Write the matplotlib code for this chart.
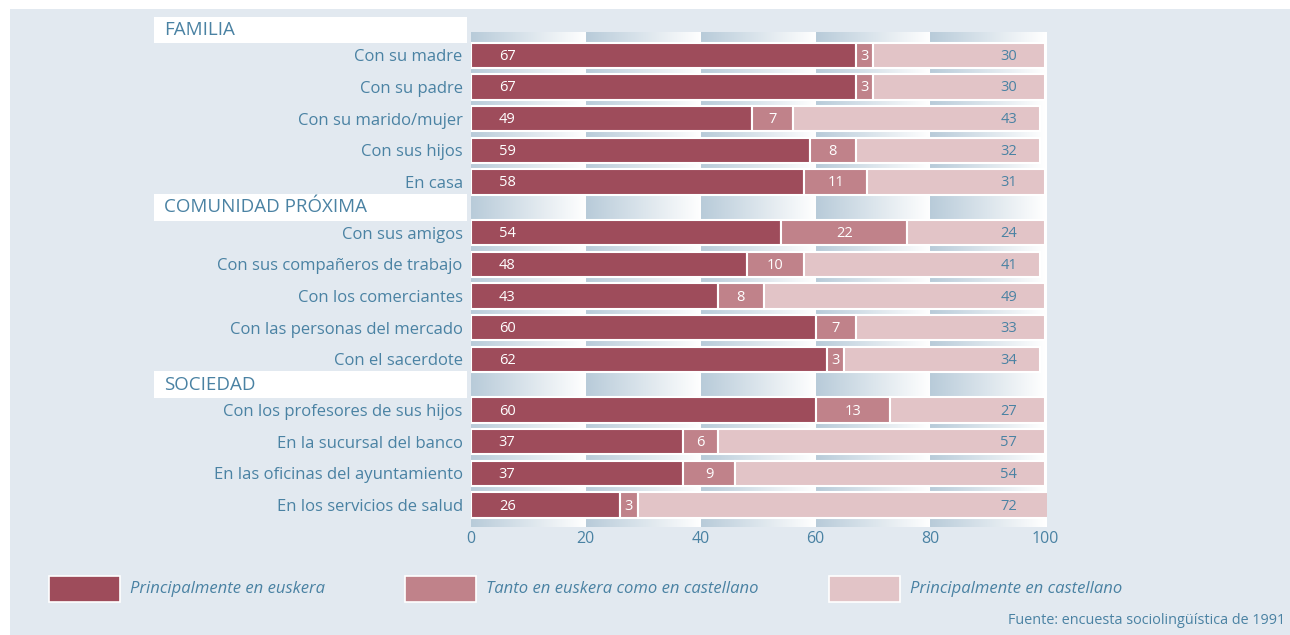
import numpy as np
import matplotlib.pyplot as plt
from matplotlib.colors import LinearSegmentedColormap
from matplotlib.patches import Rectangle

# Datos: porcentaje de uso de la lengua según interlocutor
grupos = ["FAMILIA", "COMUNIDAD PRÓXIMA", "SOCIEDAD"]
etiquetas = [
    ["Con su madre", "Con su padre", "Con su marido/mujer", "Con sus hijos", "En casa"],
    ["Con sus amigos", "Con sus compañeros de trabajo", "Con los comerciantes",
     "Con las personas del mercado", "Con el sacerdote"],
    ["Con los profesores de sus hijos", "En la sucursal del banco",
     "En las oficinas del ayuntamiento", "En los servicios de salud"],
]
euskera = [67, 67, 49, 59, 58, 54, 48, 43, 60, 62, 60, 37, 37, 26]
ambos = [3, 3, 7, 8, 11, 22, 10, 8, 7, 3, 13, 6, 9, 3]
castellano = [30, 30, 43, 32, 31, 24, 41, 49, 33, 34, 27, 57, 54, 72]
leyenda = ["Principalmente en euskera", "Tanto en euskera como en castellano",
           "Principalmente en castellano"]
fuente = "Fuente: encuesta sociolingüística de 1991"

col_eus = "#9e4c5b"
col_amb = "#c0828a"
col_cas = "#e2c4c7"
col_txt = "#4a82a3"
fondo = "#e2e9f0"

plt.rcParams["font.family"] = ["Open Sans", "DejaVu Sans"]

fig = plt.figure(figsize=(12.9, 6.35), dpi=100)
fig.patch.set_facecolor("white")
fig.patches.append(Rectangle((10 / 1290, 0), 1, 1 - 9 / 635, transform=fig.transFigure,
                             facecolor=fondo, edgecolor="none", zorder=-10))

ax = fig.add_axes([471 / 1290, 1 - 527 / 635, 576 / 1290, (527 - 32) / 635])
ax.set_facecolor("white")

# posiciones verticales: filas de cada grupo con hueco para la cabecera
salto = 1.6
pos = []
cab = []
y = 0.0
for i, filas in enumerate(etiquetas):
    if i > 0:
        y += salto - 1
    cab.append(y - 0.8)
    for _ in filas:
        pos.append(y)
        y += 1
pos = np.array(pos)
nombres = [e for filas in etiquetas for e in filas]

y_top, y_bot = -0.735, pos[-1] + 0.69

# fondo degradado en tramos de 20
cmap = LinearSegmentedColormap.from_list("deg", ["#b8cbd9", "#ffffff"])
ramp = np.linspace(0, 1, 256).reshape(1, -1)
for x0 in range(0, 100, 20):
    ax.imshow(ramp, cmap=cmap, aspect="auto", extent=(x0, x0 + 20, y_bot, y_top),
              zorder=0, interpolation="bilinear")
ax.set_ylim(y_bot, y_top)
ax.set_xlim(0, 100.3)

alto = 0.8
eus = np.array(euskera)
amb = np.array(ambos)
cas = np.array(castellano)
kw = dict(height=alto, edgecolor="white", linewidth=1.5, zorder=2)
ax.barh(pos, eus, color=col_eus, **kw)
ax.barh(pos, amb, left=eus, color=col_amb, **kw)
ax.barh(pos, cas, left=eus + amb, color=col_cas, **kw)

for p, a, b, c in zip(pos, eus, amb, cas):
    ax.text(6.3, p + 0.03, str(a), color="white", ha="center", va="center", fontsize=10.5, zorder=3)
    ax.text(a + b / 2, p + 0.03, str(b), color="white", ha="center", va="center", fontsize=10.5, zorder=3)
    ax.text(93.6, p + 0.03, str(c), color=col_txt, ha="center", va="center", fontsize=10.5, zorder=3)

ax.set_yticks(pos)
ax.set_yticklabels(nombres, fontsize=12, color=col_txt)
ax.tick_params(axis="y", length=0, pad=6)
ax.set_xticks(range(0, 101, 20))
ax.tick_params(axis="x", length=0, labelsize=11.5, labelcolor=col_txt, pad=3)
for s in ax.spines.values():
    s.set_visible(False)

# cajas blancas de cabecera de grupo
for g, c in zip(grupos, cab):
    ax.add_patch(Rectangle((-55.2, c - 0.42), 54.5, 0.84, transform=ax.transData,
                           facecolor="white", edgecolor="none", clip_on=False, zorder=1))
    ax.text(-53.5, c, g, color=col_txt, fontsize=13.5, ha="left", va="center")

# leyenda
cols = [col_eus, col_amb, col_cas]
xs = [49, 405, 829]
for x, col, txt in zip(xs, cols, leyenda):
    fig.patches.append(Rectangle((x / 1290, 1 - 602 / 635), 71 / 1290, 26 / 635,
                                 transform=fig.transFigure, facecolor=col,
                                 edgecolor="white", linewidth=1.2))
    fig.text((x + 81) / 1290, 1 - 589 / 635, txt, color=col_txt, fontsize=12,
             style="italic", ha="left", va="center")

fig.text(1285 / 1290, 1 - 621 / 635, fuente, color=col_txt, fontsize=10.4,
         ha="right", va="center")

fig.savefig("out.png", dpi=100)
